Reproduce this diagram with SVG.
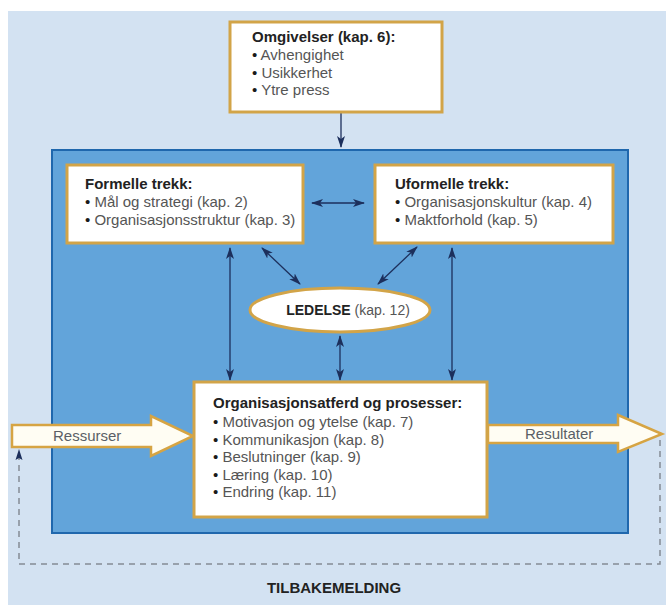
<svg xmlns="http://www.w3.org/2000/svg" width="666" height="605" viewBox="0 0 666 605">
  <style>
    .box { fill: #ffffff; stroke: #d2a448; stroke-width: 3; }
    .flow { fill: #fffdf3; stroke: #d6a443; stroke-width: 2.5; stroke-linejoin: miter; }
    .link { stroke: #1c2f5c; stroke-width: 1.3; fill: none; }
    .hd { font-family: "Liberation Sans", Arial, sans-serif; font-size: 15px; font-weight: bold; fill: #222222; }
    .tx { font-family: "Liberation Sans", Arial, sans-serif; font-size: 15px; fill: #555555; }
    .tx .b { fill: #1a1a1a; }
    .lbl { font-family: "Liberation Sans", Arial, sans-serif; font-size: 15px; fill: #5a5f66; }
  </style>
  <defs>
    <marker id="head" viewBox="0 0 12 8" refX="11" refY="4" markerWidth="12" markerHeight="8" markerUnits="userSpaceOnUse" orient="auto-start-reverse">
      <path d="M0,0 L12,4 L0,8 L3,4 z" fill="#1c2f5c"/>
    </marker>
    <linearGradient id="fadeY" x1="0" y1="0" x2="0" y2="1">
      <stop offset="0" stop-color="#fff7dc"/>
      <stop offset="0.5" stop-color="#ffffff"/>
      <stop offset="1" stop-color="#fff7dc"/>
    </linearGradient>
  </defs>

  <!-- page background -->
  <rect x="0" y="0" width="666" height="605" fill="#ffffff"/>
  <rect x="8" y="11" width="658" height="594" fill="#d3e2f2"/>

  <!-- organisation frame -->
  <rect id="organisation" x="52" y="150" width="576" height="383" fill="#62a4da" stroke="#1f67ad" stroke-width="2"/>

  <!-- connectors -->
  <g id="connectors">
    <line class="link" x1="341" y1="113" x2="341" y2="147" marker-end="url(#head)"/>
    <line class="link" x1="312" y1="203" x2="364" y2="203" marker-start="url(#head)" marker-end="url(#head)"/>
    <line class="link" x1="262" y1="248" x2="300" y2="284" marker-start="url(#head)" marker-end="url(#head)"/>
    <line class="link" x1="417" y1="247" x2="378" y2="284" marker-start="url(#head)" marker-end="url(#head)"/>
    <line class="link" x1="230" y1="248" x2="230" y2="380" marker-start="url(#head)" marker-end="url(#head)"/>
    <line class="link" x1="452" y1="248" x2="452" y2="380" marker-start="url(#head)" marker-end="url(#head)"/>
    <line class="link" x1="340" y1="336" x2="340" y2="380" marker-start="url(#head)" marker-end="url(#head)"/>
    <!-- feedback loop -->
    <polyline points="660,440 660,564 19,564 19,458" fill="none" stroke="#858c95" stroke-width="1.5" stroke-dasharray="6,5"/>
    <path d="M19,449 L22.5,460 L19,458 L15.5,460 z" fill="#1c2f5c"/>
  </g>

  <!-- resources in -->
  <g id="ressurser">
    <path class="flow" d="M12,425 L151,425 L151,416 L193,436 L151,456 L151,447 L12,447 z" fill="url(#fadeY)"/>
    <text class="lbl" x="53" y="441">Ressurser</text>
  </g>

  <!-- results out -->
  <g id="resultater">
    <path class="flow" d="M488,425 L618,425 L618,415 L662,434 L618,452 L618,443 L488,443 z" fill="url(#fadeY)"/>
    <text class="lbl" x="525" y="439">Resultater</text>
  </g>

  <g id="omgivelser">
    <rect class="box" x="230" y="22" width="212" height="90"/>
    <text class="hd" x="252" y="42">Omgivelser (kap. 6):</text>
    <text class="tx" x="252" y="60"><tspan class="b">•</tspan> Avhengighet</text>
    <text class="tx" x="252" y="77.5"><tspan class="b">•</tspan> Usikkerhet</text>
    <text class="tx" x="252" y="95"><tspan class="b">•</tspan> Ytre press</text>
  </g>

  <g id="formelle">
    <rect class="box" x="67" y="165" width="236" height="78"/>
    <text class="hd" x="85" y="189">Formelle trekk:</text>
    <text class="tx" x="85" y="207"><tspan class="b">•</tspan> Mål og strategi (kap. 2)</text>
    <text class="tx" x="85" y="225"><tspan class="b">•</tspan> Organisasjonsstruktur (kap. 3)</text>
  </g>

  <g id="uformelle">
    <rect class="box" x="375" y="165" width="238" height="78"/>
    <text class="hd" x="395" y="189">Uformelle trekk:</text>
    <text class="tx" x="395" y="207"><tspan class="b">•</tspan> Organisasjonskultur (kap. 4)</text>
    <text class="tx" x="395" y="225"><tspan class="b">•</tspan> Maktforhold (kap. 5)</text>
  </g>

  <g id="ledelse">
    <ellipse cx="340" cy="310" rx="90" ry="22" fill="#ffffff" stroke="#d2a448" stroke-width="3"/>
    <text x="348" y="315" text-anchor="middle" style="font-family: 'Liberation Sans', Arial, sans-serif; font-size: 14px;"><tspan font-weight="bold" fill="#222222">LEDELSE</tspan><tspan fill="#555555"> (kap. 12)</tspan></text>
  </g>

  <g id="atferd">
    <rect class="box" x="194" y="382" width="293" height="135"/>
    <text class="hd" x="213" y="408">Organisasjonsatferd og prosesser:</text>
    <text class="tx" x="213" y="427"><tspan class="b">•</tspan> Motivasjon og ytelse (kap. 7)</text>
    <text class="tx" x="213" y="444.5"><tspan class="b">•</tspan> Kommunikasjon (kap. 8)</text>
    <text class="tx" x="213" y="462"><tspan class="b">•</tspan> Beslutninger (kap. 9)</text>
    <text class="tx" x="213" y="479.5"><tspan class="b">•</tspan> Læring (kap. 10)</text>
    <text class="tx" x="213" y="497"><tspan class="b">•</tspan> Endring (kap. 11)</text>
  </g>

  <g id="tilbakemelding">
    <text class="hd" x="334" y="593" text-anchor="middle">TILBAKEMELDING</text>
  </g>
</svg>
